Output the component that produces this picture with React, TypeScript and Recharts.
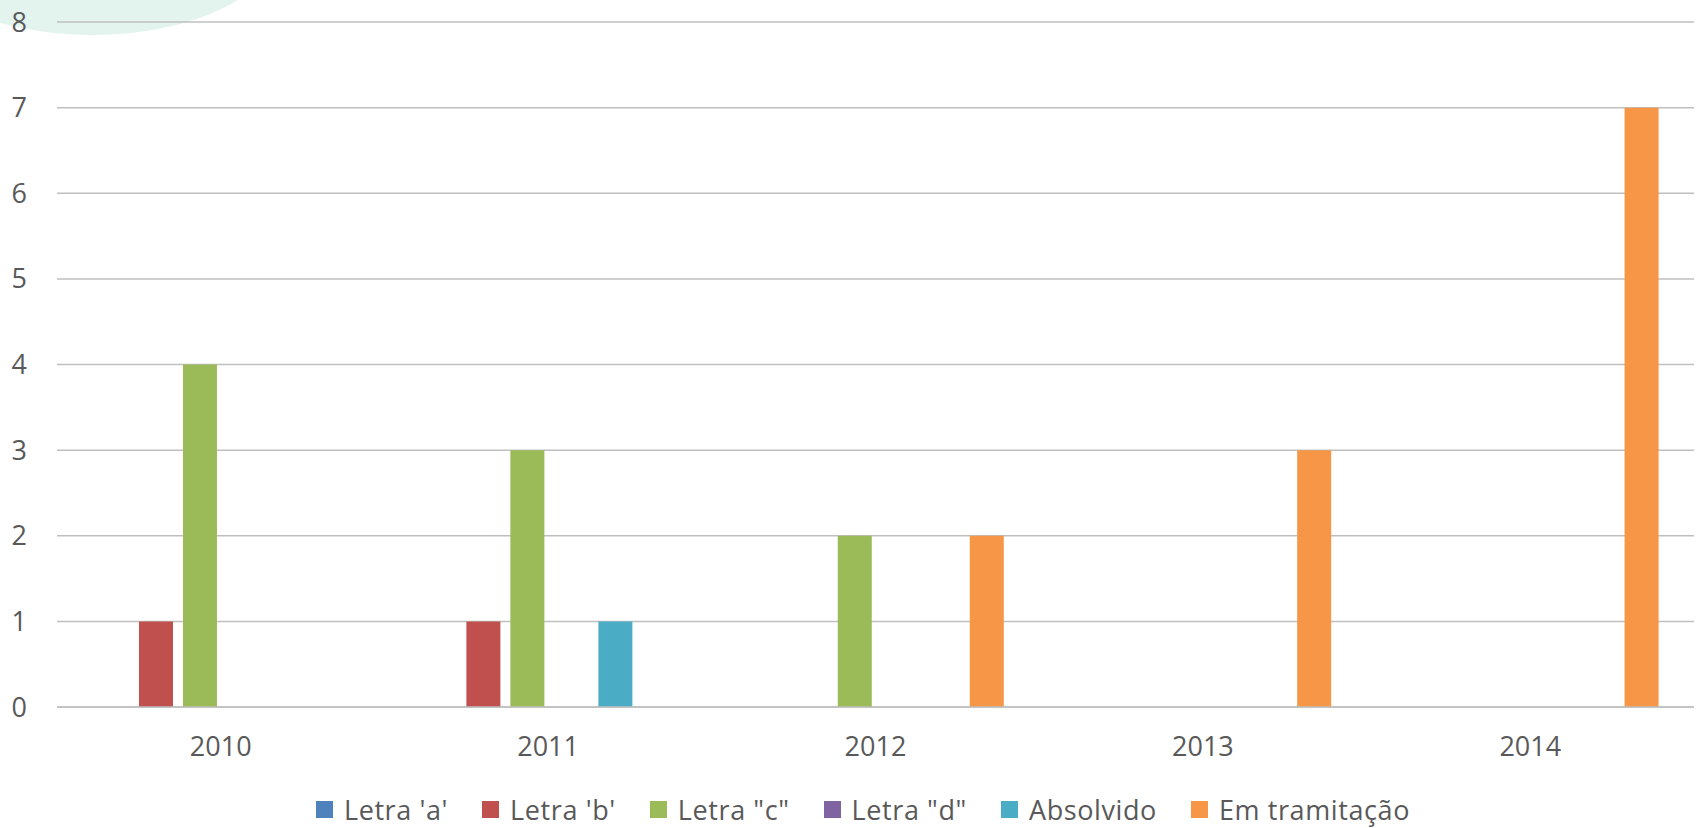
import { BarChart, Bar, XAxis, YAxis, CartesianGrid, Legend } from 'recharts';

const years = ['2010', '2011', '2012', '2013', '2014'];

const letraA = [0, 0, 0, 0, 0];
const letraB = [1, 1, 0, 0, 0];
const letraC = [4, 3, 2, 0, 0];
const letraD = [0, 0, 0, 0, 0];
const absolvido = [0, 1, 0, 0, 0];
const emTramitacao = [0, 0, 2, 3, 7];

const yTicks = [0, 1, 2, 3, 4, 5, 6, 7, 8];

const series = [
  { key: 'a', name: "Letra 'a'", values: letraA, color: '#4F81BD' },
  { key: 'b', name: "Letra 'b'", values: letraB, color: '#C0504D' },
  { key: 'c', name: 'Letra "c"', values: letraC, color: '#9BBB59' },
  { key: 'd', name: 'Letra "d"', values: letraD, color: '#8064A2' },
  { key: 'abs', name: 'Absolvido', values: absolvido, color: '#4BACC6' },
  { key: 'tram', name: 'Em tramitação', values: emTramitacao, color: '#F79646' },
];

const chartData = years.map((year, i) => {
  const row: Record<string, string | number> = { year };
  series.forEach((s) => {
    row[s.key] = s.values[i];
  });
  return row;
});

const FONT = '"Open Sans", "Liberation Sans", sans-serif';
const TEXT = '#595959';
const GRID = '#bfbfbf';

const LegendContent = () => (
  <div
    style={{
      display: 'flex',
      justifyContent: 'center',
      alignItems: 'center',
      paddingTop: 34,
      paddingLeft: 32,
      gap: 34,
      fontFamily: FONT,
      fontSize: 27,
      letterSpacing: 0.6,
      color: TEXT,
      whiteSpace: 'nowrap',
    }}
  >
    {series.map((s) => (
      <div key={s.key} style={{ display: 'flex', alignItems: 'center' }}>
        <div style={{ width: 17, height: 17, background: s.color, marginRight: 11 }} />
        <span>{s.name}</span>
      </div>
    ))}
  </div>
);

export default function App() {
  return (
    <div style={{ position: 'absolute', left: 0, top: 0, width: 1696, height: 828, overflow: 'hidden', background: '#fff' }}>
      {/* light mint shape in the top-left corner */}
      <div
        style={{
          position: 'absolute',
          left: -95,
          top: -155,
          width: 375,
          height: 190,
          borderRadius: '50%',
          background: '#e3f4ef',
        }}
      />
      <div style={{ position: 'absolute', left: 0, top: 0 }}>
        <BarChart
          width={1696}
          height={828}
          data={chartData}
          margin={{ top: 22, right: 2, left: 0, bottom: 0 }}
          barCategoryGap="11.6%"
          barGap={10}
        >
          <CartesianGrid vertical={false} stroke={GRID} strokeWidth={1.5} />
          <XAxis
            dataKey="year"
            tickLine={false}
            tickSize={0}
            tickMargin={30}
            height={50}
            axisLine={{ stroke: GRID, strokeWidth: 1.5 }}
            tick={{ fill: TEXT, fontSize: 27, fontFamily: FONT }}
          />
          <YAxis
            domain={[0, 8]}
            ticks={yTicks}
            axisLine={false}
            tickLine={false}
            tickSize={0}
            tickMargin={30}
            width={57}
            tick={{ fill: TEXT, fontSize: 27, fontFamily: FONT }}
          />
          <Legend verticalAlign="bottom" wrapperStyle={{ height: 71 }} content={<LegendContent />} />
          {series.map((s) => (
            <Bar key={s.key} dataKey={s.key} name={s.name} fill={s.color} isAnimationActive={false} />
          ))}
        </BarChart>
      </div>
    </div>
  );
}
